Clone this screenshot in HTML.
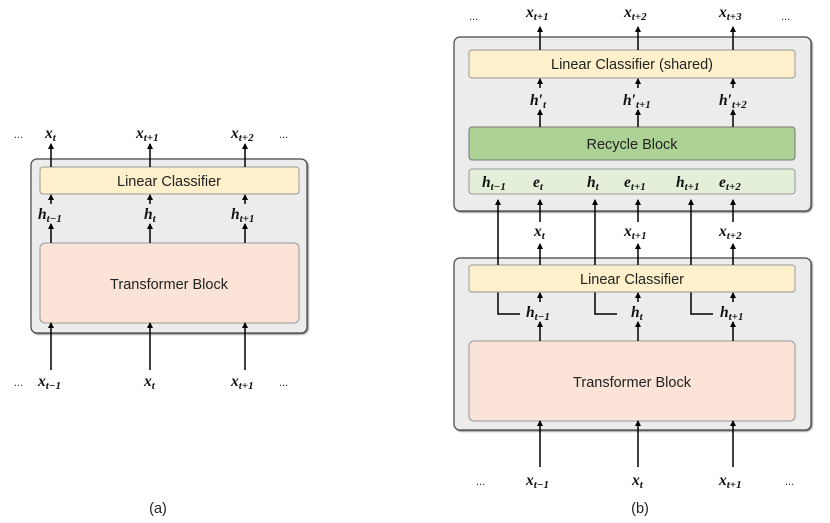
<!DOCTYPE html>
<html><head><meta charset="utf-8"><style>
html,body{margin:0;padding:0;background:#fff}
svg{display:block}
.m{font-family:"Liberation Serif",serif;font-weight:bold;font-style:italic;font-size:15.5px;fill:#111}
.m tspan{font-size:11px}
.s{font-family:"Liberation Sans",sans-serif;font-size:14.5px;fill:#222}
.d{font-family:"Liberation Sans",sans-serif;font-size:11px;fill:#222}
</style></head><body>
<svg width="830" height="523" viewBox="0 0 830 523" xmlns="http://www.w3.org/2000/svg">
<defs>
<marker id="a" markerWidth="6" markerHeight="6" refX="5" refY="3" orient="auto" markerUnits="userSpaceOnUse"><path d="M0,0 L6,3 L0,6 z" fill="#000"/></marker>
<filter id="sh"><feDropShadow dx="1" dy="1" stdDeviation="0.8" flood-color="#777"/></filter>
</defs>
<!-- (a) -->
<rect x="31" y="159" width="276" height="174" rx="6" fill="#ececec" stroke="#444" stroke-width="1.2" filter="url(#sh)"/>
<rect x="40" y="167" width="259" height="27" rx="3" fill="#fdf0cb" stroke="#999"/>
<text class="s" x="169" y="186" text-anchor="middle">Linear Classifier</text>
<rect x="40" y="243" width="259" height="80" rx="5" fill="#fbe4d7" stroke="#999"/>
<text class="s" x="169" y="289" text-anchor="middle">Transformer Block</text>
<g stroke="#000" stroke-width="1.5" marker-end="url(#a)">
<line x1="51" y1="167" x2="51" y2="144"/><line x1="150" y1="167" x2="150" y2="144"/><line x1="245" y1="167" x2="245" y2="144"/>
<line x1="51" y1="204" x2="51" y2="195"/><line x1="150" y1="204" x2="150" y2="195"/><line x1="245" y1="204" x2="245" y2="195"/>
<line x1="51" y1="243" x2="51" y2="224"/><line x1="150" y1="243" x2="150" y2="224"/><line x1="245" y1="243" x2="245" y2="224"/>
<line x1="51" y1="370" x2="51" y2="323"/><line x1="150" y1="370" x2="150" y2="323"/><line x1="245" y1="370" x2="245" y2="323"/>
</g>
<text class="d" x="14" y="138">...</text><text class="d" x="279" y="138">...</text>
<text class="m" x="45" y="138">x<tspan dy="3">t</tspan></text>
<text class="m" x="136" y="138">x<tspan dy="3">t+1</tspan></text>
<text class="m" x="231" y="138">x<tspan dy="3">t+2</tspan></text>
<text class="m" x="38" y="219">h<tspan dy="3">t−1</tspan></text>
<text class="m" x="144" y="219">h<tspan dy="3">t</tspan></text>
<text class="m" x="231" y="219">h<tspan dy="3">t+1</tspan></text>
<text class="d" x="14" y="386">...</text><text class="d" x="279" y="386">...</text>
<text class="m" x="38" y="386">x<tspan dy="3">t−1</tspan></text>
<text class="m" x="144" y="386">x<tspan dy="3">t</tspan></text>
<text class="m" x="231" y="386">x<tspan dy="3">t+1</tspan></text>
<text class="s" x="158" y="513" text-anchor="middle">(a)</text>

<!-- (b) top -->
<rect x="454" y="37" width="357" height="174" rx="6" fill="#ececec" stroke="#444" stroke-width="1.2" filter="url(#sh)"/>
<rect x="469" y="50" width="326" height="28" rx="3" fill="#fdf0cb" stroke="#999"/>
<text class="s" x="632" y="69" text-anchor="middle">Linear Classifier (shared)</text>
<rect x="469" y="127" width="326" height="33" rx="3" fill="#acd295" stroke="#777"/>
<text class="s" x="632" y="149" text-anchor="middle">Recycle Block</text>
<rect x="469" y="169" width="326" height="25" rx="3" fill="#e3efd9" stroke="#999"/>
<text class="m" x="482" y="187">h<tspan dy="3">t−1</tspan></text>
<text class="m" x="533" y="187">e<tspan dy="3">t</tspan></text>
<text class="m" x="587" y="187">h<tspan dy="3">t</tspan></text>
<text class="m" x="624" y="187">e<tspan dy="3">t+1</tspan></text>
<text class="m" x="676" y="187">h<tspan dy="3">t+1</tspan></text>
<text class="m" x="719" y="187">e<tspan dy="3">t+2</tspan></text>
<!-- (b) bottom -->
<rect x="454" y="258" width="357" height="172" rx="6" fill="#ececec" stroke="#444" stroke-width="1.2" filter="url(#sh)"/>
<g stroke="#000" stroke-width="1.5" fill="none">
<polyline points="520,314 498,314 498,292"/><polyline points="617,314 595,314 595,292"/><polyline points="713,314 691,314 691,292"/>
</g>
<rect x="469" y="265" width="326" height="27" rx="3" fill="#fdf0cb" stroke="#999"/>
<text class="s" x="632" y="284" text-anchor="middle">Linear Classifier</text>
<rect x="469" y="341" width="326" height="80" rx="5" fill="#fbe4d7" stroke="#999"/>
<text class="s" x="632" y="387" text-anchor="middle">Transformer Block</text>
<g stroke="#000" stroke-width="1.5" marker-end="url(#a)">
<line x1="540" y1="50" x2="540" y2="27"/><line x1="638" y1="50" x2="638" y2="27"/><line x1="733" y1="50" x2="733" y2="27"/>
<line x1="540" y1="88" x2="540" y2="79"/><line x1="638" y1="88" x2="638" y2="79"/><line x1="733" y1="88" x2="733" y2="79"/>
<line x1="540" y1="127" x2="540" y2="110"/><line x1="638" y1="127" x2="638" y2="110"/><line x1="733" y1="127" x2="733" y2="110"/>
<line x1="498" y1="265" x2="498" y2="200"/><line x1="595" y1="265" x2="595" y2="200"/><line x1="691" y1="265" x2="691" y2="200"/>
<line x1="540" y1="222" x2="540" y2="200"/><line x1="638" y1="222" x2="638" y2="200"/><line x1="733" y1="222" x2="733" y2="200"/>
<line x1="540" y1="265" x2="540" y2="244"/><line x1="638" y1="265" x2="638" y2="244"/><line x1="733" y1="265" x2="733" y2="244"/>
<line x1="540" y1="302" x2="540" y2="293"/><line x1="638" y1="302" x2="638" y2="293"/><line x1="733" y1="302" x2="733" y2="293"/>
<line x1="540" y1="341" x2="540" y2="322"/><line x1="638" y1="341" x2="638" y2="322"/><line x1="733" y1="341" x2="733" y2="322"/>
<line x1="540" y1="467" x2="540" y2="421"/><line x1="638" y1="467" x2="638" y2="421"/><line x1="733" y1="467" x2="733" y2="421"/>
</g>
<text class="d" x="469" y="20">...</text><text class="d" x="781" y="20">...</text>
<text class="m" x="526" y="17">x<tspan dy="3">t+1</tspan></text>
<text class="m" x="624" y="17">x<tspan dy="3">t+2</tspan></text>
<text class="m" x="719" y="17">x<tspan dy="3">t+3</tspan></text>
<text class="m" x="530" y="105">h′<tspan dy="3">t</tspan></text>
<text class="m" x="623" y="105">h′<tspan dy="3">t+1</tspan></text>
<text class="m" x="719" y="105">h′<tspan dy="3">t+2</tspan></text>
<text class="m" x="534" y="236">x<tspan dy="3">t</tspan></text>
<text class="m" x="624" y="236">x<tspan dy="3">t+1</tspan></text>
<text class="m" x="719" y="236">x<tspan dy="3">t+2</tspan></text>
<text class="m" x="526" y="317">h<tspan dy="3">t−1</tspan></text>
<text class="m" x="631" y="317">h<tspan dy="3">t</tspan></text>
<text class="m" x="720" y="317">h<tspan dy="3">t+1</tspan></text>
<text class="d" x="476" y="485">...</text><text class="d" x="785" y="485">...</text>
<text class="m" x="526" y="485">x<tspan dy="3">t−1</tspan></text>
<text class="m" x="632" y="485">x<tspan dy="3">t</tspan></text>
<text class="m" x="719" y="485">x<tspan dy="3">t+1</tspan></text>
<text class="s" x="640" y="513" text-anchor="middle">(b)</text>
</svg>
</body></html>
